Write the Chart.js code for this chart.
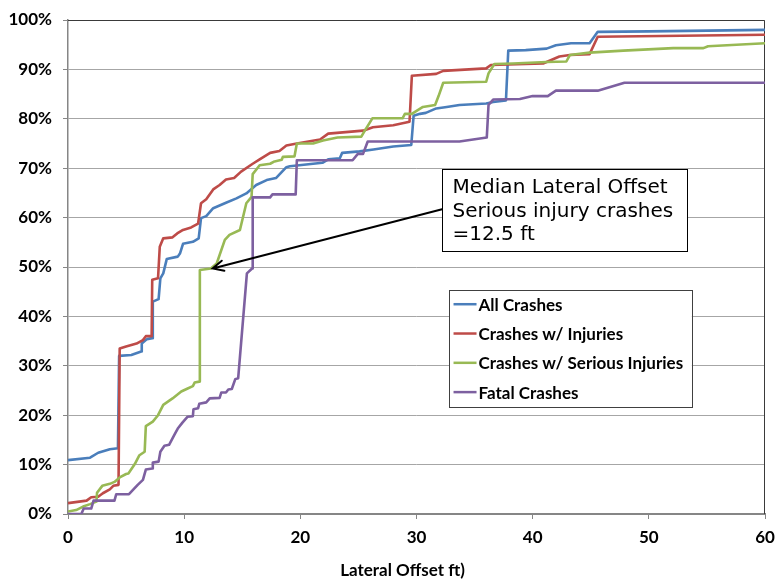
<!DOCTYPE html>
<html>
<head>
<meta charset="utf-8">
<title>Lateral Offset</title>
<script src="https://cdn.jsdelivr.net/npm/chart.js@4.4.0/dist/chart.umd.min.js"></script>
<style>
  html, body { margin: 0; padding: 0; background: #fff; }
  #wrap { width: 775px; height: 580px; }
</style>
</head>
<body>
<div id="wrap"><canvas id="chart" width="775" height="580"></canvas></div>
<script>
// series labels and colours (legend order)
const seriesNames = ['All Crashes', 'Crashes w/ Injuries', 'Crashes w/ Serious Injuries', 'Fatal Crashes'];
const seriesColors = ['#4a7ebb', '#be4b48', '#98b954', '#7d60a0'];

// cumulative share (%) by lateral offset (ft)
const allCrashes = [
  [0, 10.9], [1.9, 11.4], [2.6, 12.4], [3.6, 13.1], [4.3, 13.3], [4.4, 32.0], [5.45, 32.2], [6.3, 32.9],
  [6.35, 34.5], [6.8, 35.4], [7.25, 35.6], [7.3, 43.0], [7.8, 43.5], [7.95, 47.7], [8.2, 48.7], [8.5, 51.6],
  [9.45, 52.1], [9.65, 52.8], [9.9, 54.7], [10.75, 55.1], [11.25, 55.8], [11.45, 59.9], [11.9, 60.3],
  [12.5, 61.9], [13.6, 63.0], [14.5, 63.9], [15.35, 64.9], [16.2, 66.6], [17.1, 67.6], [17.9, 68.0],
  [18.8, 70.2], [19.1, 70.4], [21.9, 71.1], [22.4, 71.8], [23.4, 72.0], [23.6, 73.1], [25.1, 73.4],
  [26.3, 73.8], [28.0, 74.4], [29.55, 74.7], [29.75, 80.6], [30.3, 81.0], [30.8, 81.2], [31.7, 82.1],
  [32.6, 82.4], [33.7, 82.8], [36.0, 83.1], [36.6, 83.4], [37.7, 83.7], [37.9, 93.8], [39.4, 93.9],
  [41.2, 94.2], [42.0, 94.9], [43.3, 95.3], [44.9, 95.3], [45.6, 97.6], [50, 97.7], [60, 98.0]
];
const injuryCrashes = [
  [0, 2.2], [1.6, 2.7], [2.0, 3.4], [2.6, 3.5], [3.0, 4.2], [3.6, 5.0], [3.9, 5.7], [4.35, 5.9],
  [4.45, 33.5], [5.0, 33.9], [5.9, 34.5], [6.45, 35.2], [6.7, 36.0], [7.2, 36.0], [7.25, 47.4],
  [7.75, 47.7], [7.9, 54.1], [8.2, 55.8], [9.0, 56.0], [9.4, 56.8], [9.9, 57.5], [10.6, 58.0],
  [11.2, 58.8], [11.45, 62.9], [11.9, 63.7], [12.5, 65.7], [13.05, 66.6], [13.6, 67.7], [14.3, 68.0],
  [14.9, 69.3], [15.9, 70.9], [16.5, 71.8], [17.4, 73.1], [18.2, 73.5], [18.8, 74.6], [19.7, 75.0],
  [21.7, 75.8], [22.4, 77.0], [25.4, 77.6], [26.25, 78.3], [28.0, 78.7], [29.4, 79.4], [29.6, 88.7],
  [31.7, 89.1], [32.3, 89.7], [36.0, 90.2], [36.4, 90.9], [40.9, 91.2], [41.5, 91.8], [42.3, 92.6],
  [43.2, 92.9], [44.9, 93.1], [45.6, 96.6], [60, 97.0]
];
const seriousCrashes = [
  [0, 0.5], [0.7, 0.8], [1.3, 1.5], [1.9, 2.0], [2.45, 2.5], [2.5, 4.3], [2.95, 5.7], [3.6, 6.1],
  [4.0, 6.5], [4.45, 7.4], [5.0, 8.1], [5.2, 8.2], [5.75, 10.1], [6.15, 11.9], [6.6, 12.6], [6.7, 17.8],
  [7.3, 18.7], [7.75, 20.0], [8.2, 22.1], [9.0, 23.4], [9.75, 24.8], [10.3, 25.4], [10.75, 25.9],
  [10.9, 26.6], [11.3, 26.8], [11.35, 49.4], [12.3, 49.7], [12.8, 50.7], [13.5, 55.5], [13.9, 56.5],
  [14.8, 57.5], [15.35, 62.9], [15.8, 64.2], [15.9, 68.8], [16.5, 70.6], [17.4, 70.9], [17.7, 71.3],
  [18.4, 71.7], [18.5, 72.3], [19.5, 72.4], [19.7, 75.0], [21.1, 75.0], [21.95, 75.6], [23.2, 76.2],
  [25.25, 76.4], [25.5, 77.4], [26.2, 80.1], [28.8, 80.1], [29.0, 81.0], [29.6, 81.0], [30.55, 82.4],
  [31.6, 82.8], [31.9, 84.6], [32.3, 87.3], [36.0, 87.5], [36.2, 89.2], [36.7, 91.1], [38.3, 91.2],
  [41.2, 91.5], [42.9, 91.6], [43.2, 92.9], [44.9, 93.4], [47.8, 93.8], [52.1, 94.3], [54.7, 94.3],
  [55.1, 94.7], [60, 95.3]
];
const fatalCrashes = [
  [0, 0], [1.15, 0], [1.35, 1.1], [2.0, 1.1], [2.2, 2.7], [4.0, 2.7], [4.15, 4.0], [5.25, 4.0],
  [6.0, 5.9], [6.45, 6.9], [6.7, 9.0], [7.25, 9.2], [7.3, 10.4], [7.8, 10.6], [7.95, 12.6], [8.3, 13.8],
  [8.7, 14.0], [9.2, 16.2], [9.45, 17.3], [9.85, 18.5], [10.3, 19.7], [10.75, 19.8], [10.8, 21.2],
  [11.2, 21.4], [11.3, 22.3], [11.9, 22.6], [12.2, 23.4], [13.05, 23.5], [13.2, 24.6], [13.6, 24.6],
  [13.8, 25.2], [14.1, 25.3], [14.4, 27.3], [14.65, 27.5], [15.4, 48.7], [15.85, 49.7], [15.9, 64.1],
  [17.4, 64.1], [17.6, 64.7], [19.6, 64.7], [19.7, 71.6], [24.5, 71.6], [24.95, 72.9], [25.4, 72.9],
  [25.8, 75.4], [33.7, 75.4], [36.05, 76.2], [36.2, 82.8], [36.6, 83.9], [38.9, 84.0], [40.0, 84.6],
  [41.3, 84.6], [42.0, 85.7], [45.6, 85.7], [47.9, 87.3], [60, 87.3]
];
const seriesData = [allCrashes, injuryCrashes, seriousCrashes, fatalCrashes];

// annotation and axis title
const noteLines = ['Median Lateral Offset', 'Serious injury crashes', '=12.5 ft'];
const medianPoint = [12.45, 49.7];
const xTitle = 'Lateral Offset ft)';

const FONT = 'Lato, "Liberation Sans", sans-serif';

const overlay = {
  id: 'overlay',
  beforeDatasetsDraw(chart) {
    // dark plot border on top and right
    const { ctx, chartArea: a } = chart;
    ctx.save();
    ctx.strokeStyle = '#3a3a3a';
    ctx.lineWidth = 1;
    ctx.beginPath();
    ctx.moveTo(a.left, a.top + 0.5);
    ctx.lineTo(a.right - 0.5, a.top + 0.5);
    ctx.lineTo(a.right - 0.5, a.bottom);
    ctx.stroke();
    ctx.restore();
  },
  afterDatasetsDraw(chart) {
    const { ctx, chartArea: area, scales: { x, y } } = chart;
    ctx.save();

    // legend box
    const lx = x.getPixelForValue(32.8), rx = x.getPixelForValue(53.7);
    const ty = y.getPixelForValue(45.3), by = y.getPixelForValue(21.6);
    ctx.fillStyle = '#fff';
    ctx.fillRect(lx, ty, rx - lx, by - ty);
    ctx.strokeStyle = '#404040';
    ctx.lineWidth = 1;
    ctx.strokeRect(Math.round(lx) + 0.5, Math.round(ty) + 0.5, Math.round(rx - lx), Math.round(by - ty));
    ctx.font = 'bold 17px ' + FONT;
    ctx.textBaseline = 'middle';
    ctx.textAlign = 'left';
    seriesNames.forEach((name, i) => {
      const cy = ty + 14 + i * 29.3;
      ctx.strokeStyle = seriesColors[i];
      ctx.lineWidth = 2.5;
      ctx.beginPath();
      ctx.moveTo(lx + 4.5, cy);
      ctx.lineTo(lx + 27.5, cy);
      ctx.stroke();
      ctx.fillStyle = '#000';
      ctx.fillText(name, lx + 29.5, cy + 1);
    });

    // annotation box
    const ax = x.getPixelForValue(32.2), ax2 = x.getPixelForValue(53.3);
    const at = y.getPixelForValue(69.8), ab = y.getPixelForValue(53.1);
    ctx.fillStyle = '#fff';
    ctx.fillRect(ax, at, ax2 - ax, ab - at);
    ctx.strokeStyle = '#000';
    ctx.lineWidth = 1;
    ctx.strokeRect(Math.round(ax) + 0.5, Math.round(at) + 0.5, Math.round(ax2 - ax), Math.round(ab - at));
    ctx.fillStyle = '#000';
    ctx.font = '20px "DejaVu Sans", Verdana, sans-serif';
    noteLines.forEach((line, i) => ctx.fillText(line, ax + 10.5, at + 19 + i * 23.3));

    // arrow to the median point
    const sx = ax, sy = y.getPixelForValue(61.7);
    const tx = x.getPixelForValue(medianPoint[0]), tyy = y.getPixelForValue(medianPoint[1]);
    const ang = Math.atan2(sy - tyy, sx - tx);
    ctx.strokeStyle = '#000';
    ctx.lineWidth = 2;
    ctx.lineCap = 'round';
    ctx.beginPath();
    ctx.moveTo(sx, sy);
    ctx.lineTo(tx, tyy);
    ctx.moveTo(tx + 12 * Math.cos(ang + 0.45), tyy + 12 * Math.sin(ang + 0.45));
    ctx.lineTo(tx, tyy);
    ctx.lineTo(tx + 12 * Math.cos(ang - 0.45), tyy + 12 * Math.sin(ang - 0.45));
    ctx.stroke();

    // x axis title, sits a little left of the plot centre like the original
    ctx.font = 'bold 17px ' + FONT;
    ctx.textAlign = 'center';
    ctx.fillText(xTitle, (area.left + area.right) / 2 - 14, 571);

    ctx.restore();
  }
};

new Chart(document.getElementById('chart'), {
  type: 'scatter',
  data: {
    datasets: seriesData.map((pts, i) => ({
      label: seriesNames[i],
      data: pts.map(p => ({ x: p[0], y: p[1] })),
      showLine: true,
      borderColor: seriesColors[i],
      backgroundColor: seriesColors[i],
      borderWidth: 2.6,
      borderJoinStyle: 'round',
      pointRadius: 0,
      order: 3 - i
    }))
  },
  options: {
    responsive: false,
    animation: false,
    layout: { padding: { top: 20, right: 10, bottom: 0, left: 0 } },
    plugins: { legend: { display: false }, tooltip: { enabled: false } },
    scales: {
      x: {
        type: 'linear', min: 0, max: 60,
        ticks: { stepSize: 10, color: '#000', padding: 8, font: { family: FONT, weight: 'bold', size: 17 } },
        grid: { drawOnChartArea: false, drawTicks: true, tickLength: 5, tickColor: '#868686' },
        border: { color: '#868686', width: 2 },
        afterFit(scale) {
          scale.height = 66;
          scale.paddingLeft = 0;
          scale.paddingRight = 0;
        }
      },
      y: {
        min: 0, max: 100,
        ticks: { stepSize: 10, color: '#000', padding: 11, callback: v => v + '%',
                 font: { family: FONT, weight: 'bold', size: 17 } },
        grid: { color: '#a6a6a6', lineWidth: 1, tickLength: 5, tickColor: '#868686' },
        border: { color: '#868686', width: 1.5 },
        afterFit(scale) {
          scale.width = 68;
          scale.paddingTop = 0;
          scale.paddingBottom = 0;
        }
      }
    }
  },
  plugins: [overlay]
});
</script>
</body>
</html>
